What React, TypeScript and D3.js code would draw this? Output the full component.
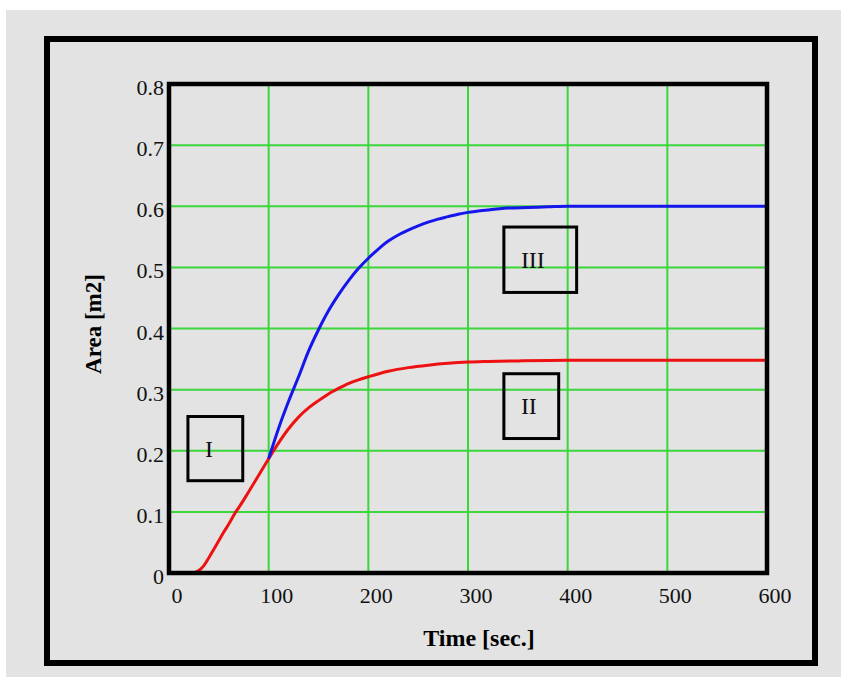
import React from 'react';
import * as d3 from 'd3';

// Region I + II (red): filling, then settling to its level
const redTime = [25, 30, 35, 40, 45, 50, 55, 60, 67, 70, 80, 90, 100, 110, 120, 130, 140, 150, 160, 170, 180, 190, 200, 220, 240, 260, 280, 300, 320, 350, 400, 500, 600];
const redArea = [0, 0.004, 0.012, 0.025, 0.039, 0.053, 0.067, 0.08, 0.1, 0.107, 0.133, 0.16, 0.187, 0.213, 0.236, 0.255, 0.27, 0.282, 0.293, 0.302, 0.31, 0.316, 0.321, 0.33, 0.336, 0.34, 0.343, 0.345, 0.346, 0.347, 0.348, 0.348, 0.348];

// Region III (blue)
const blueTime = [100, 110, 120, 130, 140, 150, 160, 170, 180, 190, 200, 210, 220, 230, 240, 250, 260, 270, 280, 290, 300, 320, 340, 360, 380, 400, 500, 600];
const blueArea = [0.187, 0.237, 0.281, 0.321, 0.363, 0.398, 0.429, 0.455, 0.478, 0.498, 0.515, 0.53, 0.543, 0.553, 0.561, 0.568, 0.574, 0.579, 0.583, 0.587, 0.59, 0.594, 0.597, 0.598, 0.599, 0.6, 0.6, 0.6];

const xTicks = [0, 100, 200, 300, 400, 500, 600];
const yTicks = [0, 0.1, 0.2, 0.3, 0.4, 0.5, 0.6, 0.7, 0.8];
const yTickLabels = ['0', '0.1', '0.2', '0.3', '0.4', '0.5', '0.6', '0.7', '0.8'];

// region labels: [t0, t1, a0, a1]
const boxNames = ['I', 'II', 'III'];
const boxSpans = [
  [19, 74, 0.256, 0.151],
  [336, 391, 0.326, 0.22],
  [336, 409, 0.566, 0.459],
];

const W = 841;
const H = 677;

export default function App() {
  const x = d3.scaleLinear().domain([0, 600]).range([169, 767]);
  const y = d3.scaleLinear().domain([0, 0.8]).range([573, 84]);

  const line = d3.line<[number, number]>()
    .x(d => x(d[0]))
    .y(d => y(d[1]))
    .curve(d3.curveMonotoneX);

  const redPts = redTime.map((t, i) => [t, redArea[i]] as [number, number]);
  const bluePts = blueTime.map((t, i) => [t, blueArea[i]] as [number, number]);

  const green = '#3ad63a';
  const font = '"Liberation Serif", "Times New Roman", serif';

  return (
    <div style={{ position: 'absolute', left: 0, top: 0 }}>
      <svg width={W} height={H} style={{ display: 'block' }}>
        <rect x={0} y={0} width={W} height={H} fill="#fff" />
        <rect x={6} y={10} width={W - 6} height={H - 10} fill="#e3e3e3" />
        <rect x={47} y={39} width={768} height={624} fill="none" stroke="#000" strokeWidth={6} />

        {/* grid */}
        {xTicks.slice(1, -1).map(t => (
          <line key={'gx' + t} x1={x(t)} x2={x(t)} y1={y(0.8)} y2={y(0)} stroke={green} strokeWidth={2} />
        ))}
        {yTicks.slice(1, -1).map(v => (
          <line key={'gy' + v} x1={x(0)} x2={x(600)} y1={y(v)} y2={y(v)} stroke={green} strokeWidth={2} />
        ))}

        <path d={line(redPts) || ''} fill="none" stroke="#ee1111" strokeWidth={3} />
        <path d={line(bluePts) || ''} fill="none" stroke="#1515ee" strokeWidth={3} />

        <rect x={x(0)} y={y(0.8)} width={x(600) - x(0)} height={y(0) - y(0.8)} fill="none" stroke="#000" strokeWidth={4.5} />

        {/* tick labels */}
        {yTicks.map((v, i) => (
          <text key={'ty' + v} x={164} y={y(v) + 11} textAnchor="end" fontFamily={font} fontSize={22} fill="#111">
            {yTickLabels[i]}
          </text>
        ))}
        {xTicks.map(t => (
          <text key={'tx' + t} x={x(t) + 8} y={y(0) + 30} textAnchor="middle" fontFamily={font} fontSize={22} fill="#111">
            {t}
          </text>
        ))}

        <text x={479} y={646} textAnchor="middle" fontFamily={font} fontSize={24} fontWeight="bold" fill="#000">
          Time [sec.]
        </text>
        <text transform="translate(101,324) rotate(-90)" textAnchor="middle" fontFamily={font} fontSize={23} fontWeight="bold" fill="#000">
          Area [m2]
        </text>

        {/* region boxes */}
        {boxSpans.map((b, i) => {
          const x0 = x(b[0]);
          const x1 = x(b[1]);
          const y0 = y(b[2]);
          const y1 = y(b[3]);
          return (
            <g key={boxNames[i]}>
              <rect x={x0} y={y0} width={x1 - x0} height={y1 - y0} fill="none" stroke="#000" strokeWidth={3} />
              <text x={x0 + 17} y={(y0 + y1) / 2 + 8} fontFamily={font} fontSize={24} fill="#111">
                {boxNames[i]}
              </text>
            </g>
          );
        })}
      </svg>
    </div>
  );
}
